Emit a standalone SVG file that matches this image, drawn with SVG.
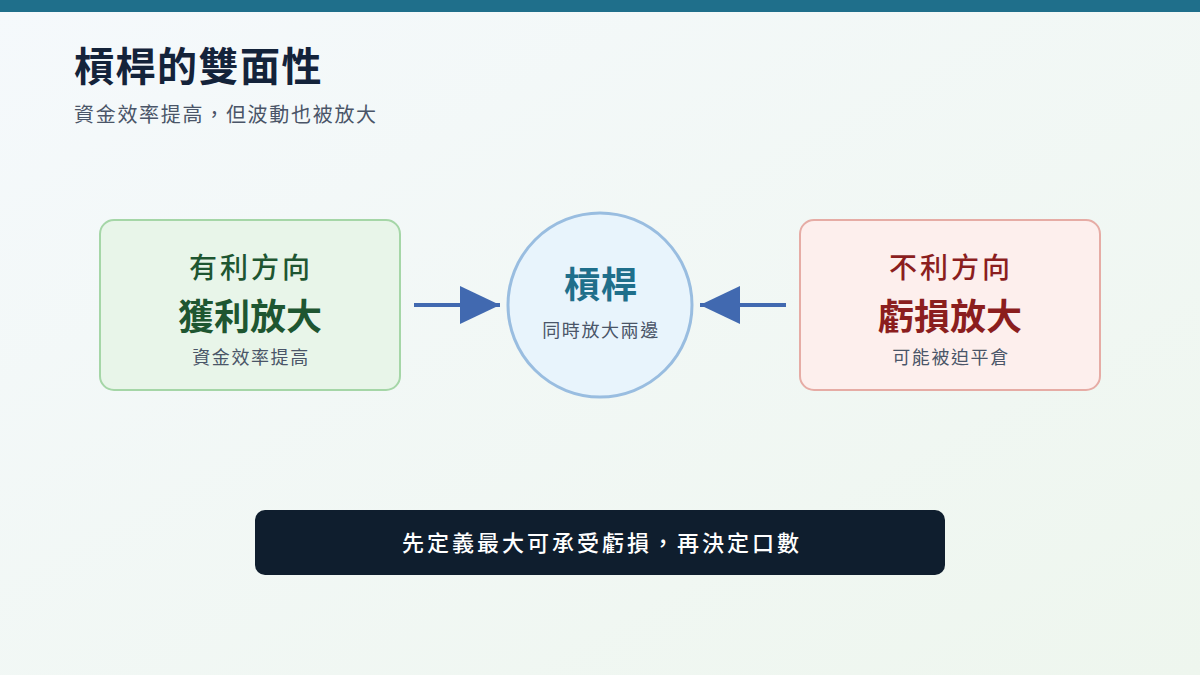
<svg xmlns="http://www.w3.org/2000/svg" width="1200" height="675" viewBox="0 0 1200 675">
<defs>
<linearGradient id="bg" x1="0" y1="0" x2="1" y2="1"><stop offset="0" stop-color="#f5f9fc"/><stop offset="1" stop-color="#eef6ee"/></linearGradient>
</defs>
<style>
text{font-family:"Noto Sans CJK TC","Noto Sans CJK SC",sans-serif;text-anchor:middle}
.conn{stroke:#4169b0;stroke-width:4;fill:none}
.small{font-size:18px;fill:#4a5568;letter-spacing:1.6px}
</style>
<rect width="1200" height="675" fill="url(#bg)"/>
<rect width="1200" height="12" fill="#1f6f8b"/>
<text x="74" y="81" style="text-anchor:start;font-size:40px;font-weight:700;fill:#14233a;letter-spacing:1.5px">槓桿的雙面性</text>
<text x="74" y="122" style="text-anchor:start;font-size:20px;fill:#4a5568;letter-spacing:1.7px">資金效率提高，但波動也被放大</text>
<g id="gain">
<rect x="100" y="220" width="300" height="170" rx="14" fill="#e8f5e9" stroke="#a5d6a7" stroke-width="2"/>
<text x="251" y="278" style="font-size:28px;font-weight:500;fill:#1e5631;letter-spacing:3px">有利方向</text>
<text x="250" y="330" style="font-size:36px;font-weight:700;fill:#1e5631">獲利放大</text>
<text x="251" y="364" class="small">資金效率提高</text>
</g>
<g id="leverage">
<circle cx="600" cy="305" r="92" fill="#e8f4fc" stroke="#99bde0" stroke-width="3"/>
<text x="601" y="298" style="font-size:36px;font-weight:700;fill:#1f6f8b;letter-spacing:1px">槓桿</text>
<text x="601" y="337" class="small">同時放大兩邊</text>
</g>
<g id="loss">
<rect x="800" y="220" width="300" height="170" rx="14" fill="#fdefed" stroke="#e6aca5" stroke-width="2"/>
<text x="951" y="278" style="font-size:28px;font-weight:500;fill:#8b1e1e;letter-spacing:3px">不利方向</text>
<text x="950" y="330" style="font-size:36px;font-weight:700;fill:#8b1e1e">虧損放大</text>
<text x="951" y="364" class="small">可能被迫平倉</text>
</g>
<g id="connectors">
<line x1="414" y1="305" x2="500" y2="305" class="conn"/>
<path d="M460,286 L500,305 L460,324 z" fill="#4169b0"/>
<line x1="786" y1="305" x2="700" y2="305" class="conn"/>
<path d="M740,286 L700,305 L740,324 z" fill="#4169b0"/>
</g>
<g id="note">
<rect x="255" y="510" width="690" height="65" rx="10" fill="#0f1e2e"/>
<text x="602" y="551" style="font-size:22px;font-weight:500;fill:#ffffff;letter-spacing:3px">先定義最大可承受虧損，再決定口數</text>
</g>
</svg>
